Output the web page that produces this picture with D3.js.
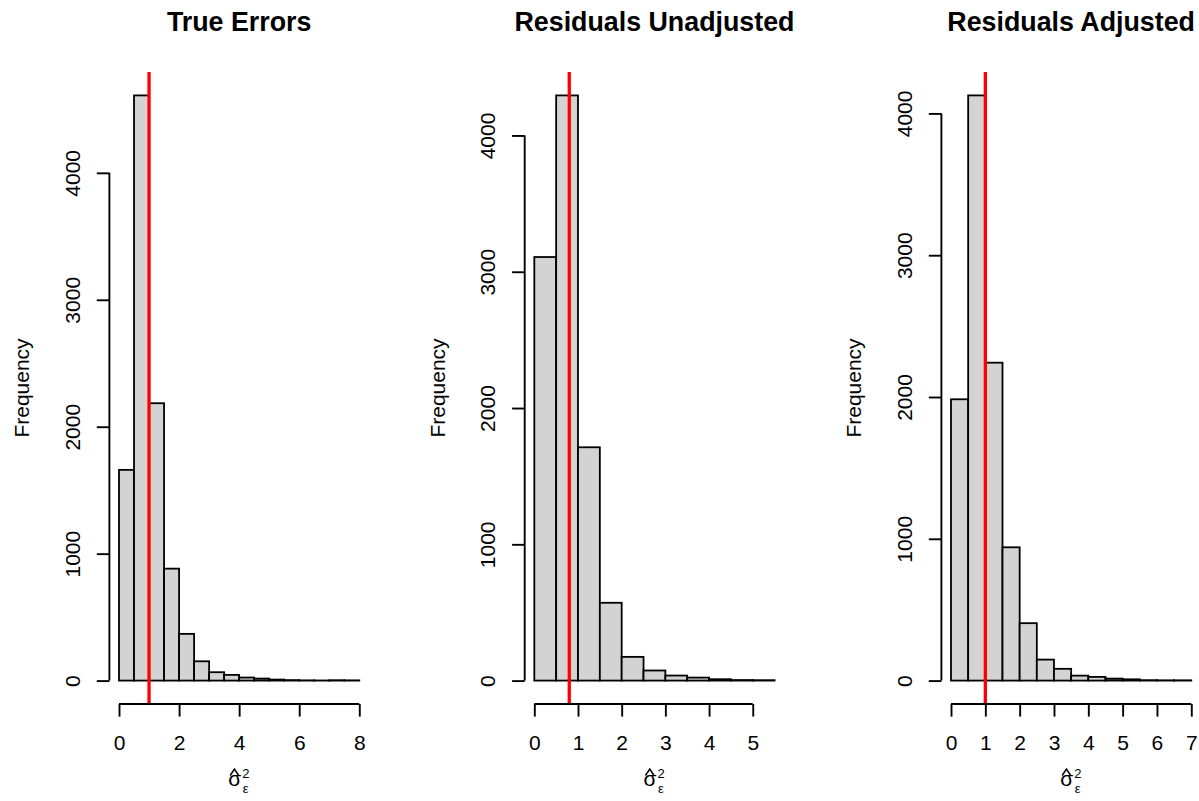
<!DOCTYPE html>
<html>
<head>
<meta charset="utf-8">
<script src="https://cdn.jsdelivr.net/npm/d3@7"></script>
<style>
  body { margin: 0; background: #fff; }
  text { font-family: "Liberation Sans", Arial, sans-serif; fill: #000; }
</style>
</head>
<body>
<div id="chart"></div>
<script>
// histogram counts, bins of width 0.5 starting at 0
var titles = ["True Errors", "Residuals Unadjusted", "Residuals Adjusted"];
var trueErrors = [1660, 4610, 2185, 882, 368, 152, 66, 45, 24, 16, 8, 4, 2, 1, 3, 2];
var residUnadj = [3108, 4294, 1712, 571, 174, 74, 37, 22, 10, 4, 3];
var residAdj = [1984, 4127, 2242, 940, 405, 148, 83, 35, 26, 14, 9, 3, 2, 2];
var binWidth = 0.5;
var xTicks1 = [0, 2, 4, 6, 8];
var xTicks2 = [0, 1, 2, 3, 4, 5];
var xTicks3 = [0, 1, 2, 3, 4, 5, 6, 7];
var yTicks = [0, 1000, 2000, 3000, 4000];
var refLines = [1, 0.8, 1];

var svgWidth = 1199;
var svgHeight = 801;

var svg = d3.select("#chart")
    .append("svg")
    .attr("width", svgWidth)
    .attr("height", svgHeight);

var panels = [
    {title: titles[0], counts: trueErrors, ticks: xTicks1, ref: refLines[0], left: 109.4},
    {title: titles[1], counts: residUnadj, ticks: xTicks2, ref: refLines[1], left: 524.7},
    {title: titles[2], counts: residAdj, ticks: xTicks3, ref: refLines[2], left: 941.4}
];

var plotW = 259.5;
var plotTop = 72;
var plotBottom = 704;
var tickLen = 12.6;

panels.forEach(function(p) {
    var bins = p.counts.map(function(c, i) {
        return {x0: i * binWidth, x1: (i + 1) * binWidth, n: c};
    });
    var xMax = bins[bins.length - 1].x1;
    var yMax = d3.max(p.counts);

    // R style 4% padding on both ends
    var xScale = d3.scaleLinear()
        .domain([-0.04 * xMax, xMax * 1.04])
        .range([p.left, p.left + plotW]);
    var yScale = d3.scaleLinear()
        .domain([-0.04 * yMax, yMax * 1.04])
        .range([plotBottom, plotTop]);

    var g = svg.append("g");

    g.selectAll("rect")
        .data(bins)
        .enter()
        .append("rect")
        .attr("x", d => xScale(d.x0))
        .attr("y", d => yScale(d.n))
        .attr("width", d => xScale(d.x1) - xScale(d.x0))
        .attr("height", d => yScale(0) - yScale(d.n))
        .attr("fill", "#d3d3d3")
        .attr("stroke", "#000")
        .attr("stroke-width", 1.8);

    g.append("line")
        .attr("x1", xScale(p.ref))
        .attr("x2", xScale(p.ref))
        .attr("y1", plotTop)
        .attr("y2", plotBottom)
        .attr("stroke", "#ff0000")
        .attr("stroke-width", 3.3);

    // x axis
    var xAxis = d3.axisBottom(xScale)
        .tickValues(p.ticks)
        .tickFormat(d3.format("d"))
        .tickSize(tickLen)
        .tickSizeOuter(0);
    var xg = g.append("g")
        .attr("transform", `translate(0,${plotBottom})`)
        .call(xAxis);
    xg.select(".domain").remove();
    xg.selectAll(".tick line").attr("stroke-width", 1.9);
    xg.selectAll(".tick text")
        .attr("y", 46)
        .attr("dy", 0)
        .style("font-size", "21px")
        .style("font-family", "'Liberation Sans', Arial, sans-serif");
    xg.append("line")
        .attr("x1", xScale(p.ticks[0]))
        .attr("x2", xScale(p.ticks[p.ticks.length - 1]))
        .attr("stroke", "#000")
        .attr("stroke-width", 1.9);

    // y axis
    var yAxis = d3.axisLeft(yScale)
        .tickValues(yTicks)
        .tickFormat(d3.format("d"))
        .tickSize(tickLen)
        .tickSizeOuter(0);
    var yg = g.append("g")
        .attr("transform", `translate(${p.left},0)`)
        .call(yAxis);
    yg.select(".domain").remove();
    yg.selectAll(".tick line").attr("stroke-width", 1.9);
    yg.selectAll(".tick text")
        .attr("x", 0)
        .attr("y", -29.6)
        .attr("dy", 0)
        .attr("transform", "rotate(-90)")
        .attr("text-anchor", "middle")
        .style("font-size", "21px")
        .style("font-family", "'Liberation Sans', Arial, sans-serif");
    yg.append("line")
        .attr("y1", yScale(yTicks[0]))
        .attr("y2", yScale(yTicks[yTicks.length - 1]))
        .attr("stroke", "#000")
        .attr("stroke-width", 1.9);

    var cx = p.left + plotW / 2;

    g.append("text")
        .attr("x", cx)
        .attr("y", 31)
        .attr("text-anchor", "middle")
        .style("font-size", "26.8px")
        .style("font-weight", "bold")
        .text(p.title);

    g.append("text")
        .attr("transform", `translate(${p.left - 80},${(plotTop + plotBottom) / 2}) rotate(-90)`)
        .attr("text-anchor", "middle")
        .style("font-size", "21px")
        .text("Frequency");

    // x label: sigma hat, squared, subscript epsilon
    var lab = g.append("g").attr("transform", `translate(${cx - 11},786)`);
    var t = lab.append("text")
        .attr("x", 0)
        .style("font-size", "21px");
    t.append("tspan").text("σ");
    t.append("tspan")
        .attr("x", 14)
        .attr("y", -8)
        .style("font-size", "13px")
        .text("2");
    t.append("tspan")
        .attr("x", 14.5)
        .attr("y", 7)
        .style("font-size", "13px")
        .text("ε");
    lab.append("path")
        .attr("d", "M2,-10.5L6.3,-17L10.6,-10.5")
        .attr("fill", "none")
        .attr("stroke", "#000")
        .attr("stroke-width", 1.5);
});
</script>
</body>
</html>
